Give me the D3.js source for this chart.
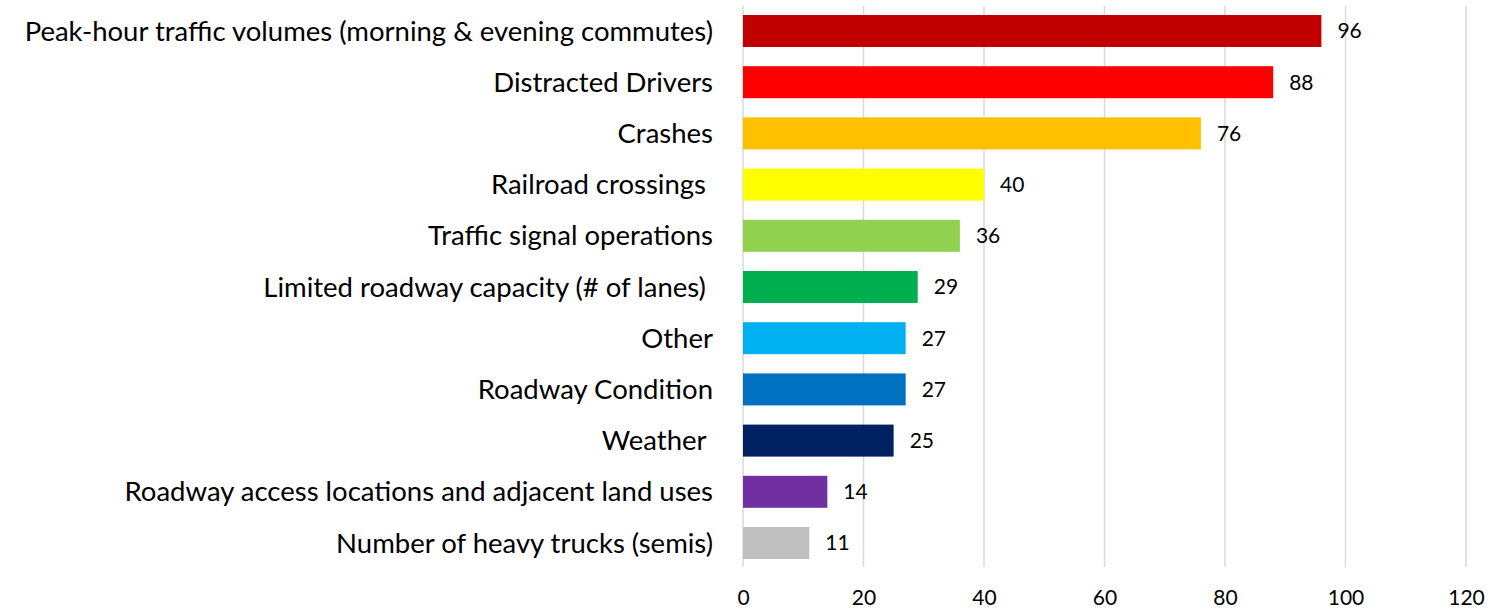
<!DOCTYPE html>
<html><head><meta charset="utf-8">
<script src="https://cdn.jsdelivr.net/npm/d3@7"></script>
<style>body{margin:0;background:#fff}text{font-family:Lato,"Noto Sans",sans-serif;fill:#000}</style>
</head><body><svg id="c" width="1503" height="613"></svg>
<script>
const categories = ["Peak-hour traffic volumes (morning & evening commutes)","Distracted Drivers","Crashes","Railroad crossings ","Traffic signal operations","Limited roadway capacity (# of lanes) ","Other","Roadway Condition","Weather ","Roadway access locations and adjacent land uses","Number of heavy trucks (semis)"];
const values = [96,88,76,40,36,29,27,27,25,14,11];
const colors = ["#C00000","#FF0000","#FFC000","#FFFF00","#92D050","#00B050","#00B0F0","#0070C0","#002060","#7030A0","#BFBFBF"];
const ticks = [0,20,40,60,80,100,120];

const svg = d3.select("#c");
const x = d3.scaleLinear().domain([0,120]).range([743,1466]);
const y = d3.scaleBand().domain(categories).range([5.4,568.6]).paddingInner(0.375).paddingOuter(0.1875);

svg.append("g").selectAll("line").data(ticks).join("line")
  .attr("x1",d=>x(d)).attr("x2",d=>x(d)).attr("y1",6).attr("y2",567)
  .attr("stroke","#d9d9d9").attr("stroke-width",1.5);

const xa = svg.append("g").attr("transform","translate(0,590)")
  .call(d3.axisBottom(x).tickValues(ticks).tickSize(0).tickPadding(0));
xa.select(".domain").remove();
xa.selectAll("text").attr("font-size",21).attr("dy","0.71em").style("font-family","Lato");

svg.append("g").selectAll("rect").data(values).join("rect")
  .attr("x",x(0)).attr("y",(d,i)=>y(categories[i])).attr("width",d=>x(d)-x(0))
  .attr("height",y.bandwidth()).attr("fill",(d,i)=>colors[i]);

svg.append("g").selectAll("text").data(values).join("text")
  .attr("x",d=>x(d)+16).attr("y",(d,i)=>y(categories[i])+y.bandwidth()/2)
  .attr("dy","0.35em").attr("font-size",21).text(d=>d);

svg.append("g").selectAll("text").data(categories).join("text")
  .attr("x",713).attr("y",d=>y(d)+y.bandwidth()/2).attr("dy","0.35em")
  .attr("text-anchor","end").attr("font-size",27.5).style("white-space","pre").text(d=>d);
</script></body></html>
